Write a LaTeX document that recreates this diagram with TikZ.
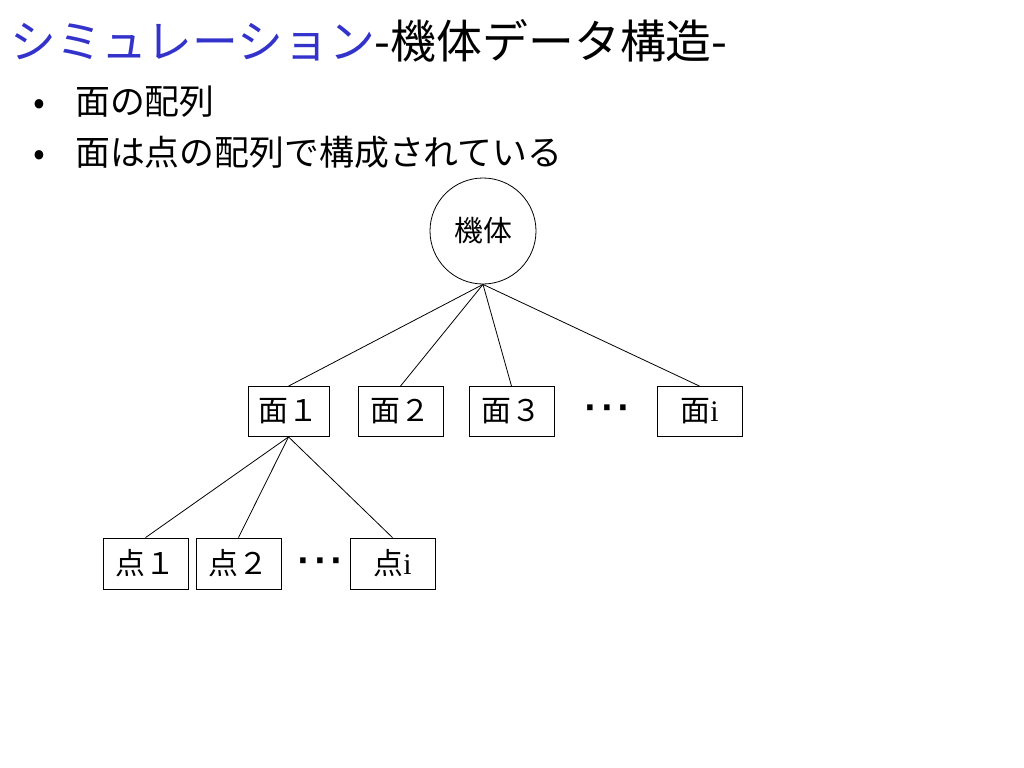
\documentclass[tikz,border=0pt]{standalone}
\usepackage{fontspec}
\setmainfont{Noto Sans CJK JP}
\newfontfamily\serifi{Liberation Serif}
\newfontfamily\dotfont[LetterSpace=15.0]{DejaVu Sans}
\usetikzlibrary{positioning}
\definecolor{titleblue}{RGB}{51,51,204}
\tikzset{F node/.style={rectangle,fill=white,draw,line width=0.8bp,minimum width=85bp,minimum height=50bp,inner sep=0pt,font=\fontsize{30}{32}\selectfont},
	B node/.style={circle,draw,line width=0.8bp,minimum size=106bp,inner sep=0pt,font=\fontsize{29}{32}\selectfont},
	T node/.style={anchor=base west,inner sep=0pt},
	D node/.style={inner sep=0pt,font=\fontsize{31}{34}\dotfont\bfseries},}

\begin{document}
\begin{tikzpicture}[x=1bp,y=-1bp]
			\useasboundingbox (0,0) rectangle (1024,768);

			\node[T node,font=\fontsize{46}{50}\selectfont] (title) at (10,59) {{\color{titleblue}シミュレーション}-機体データ構造-};
			\node[T node,font=\fontsize{35}{38}\selectfont] (b1) at (33,114) {•};
			\node[T node,font=\fontsize{35}{38}\selectfont] (t1) at (75,114) {面の配列};
			\node[T node,font=\fontsize{35}{38}\selectfont] (b2) at (33,165) {•};
			\node[T node,font=\fontsize{35}{38}\selectfont] (t2) at (75,165) {面は点の配列で構成されている};

			\node[B node] (body) at (483,231) {機体};

			\node[F node,minimum width=81bp] (f1) at (288.5,411.5) {面１};
			\node[F node] (f2) at (400.5,411.5) {面２};
			\node[F node] (f3) at (511.5,411.5) {面３};
			\node[D node] (fd) at (607,412) {···};
			\node[F node] (fi) at (699.5,411.5) {面{\serifi i}};

			\node[F node,minimum height=51bp] (p1) at (145.5,563.5) {点１};
			\node[F node,minimum height=51bp] (p2) at (238.5,563.5) {点２};
			\node[D node] (pd) at (320,565) {···};
			\node[F node,minimum height=51bp] (pi) at (392.5,563.5) {点{\serifi i}};

			\path[draw,line width=0.8bp]
				(body.south) edge (f1.north)
				(body.south) edge (f2.north)
				(body.south) edge (f3.north)
				(body.south) edge (fi.north)
				(f1.south) edge (p1.north)
				(f1.south) edge (p2.north)
				(f1.south) edge (pi.north);
		\end{tikzpicture}
\end{document}
